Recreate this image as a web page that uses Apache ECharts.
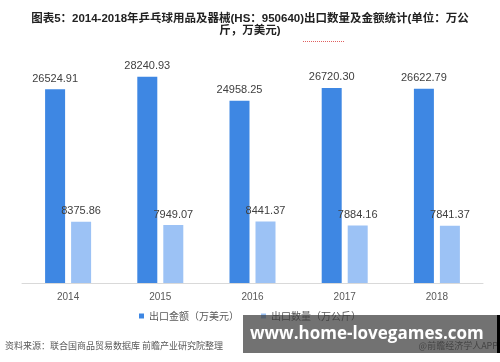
<!DOCTYPE html>
<html><head><meta charset="utf-8">
<script src="https://cdn.jsdelivr.net/npm/echarts@6/dist/echarts.min.js"></script>
<style>html,body{margin:0;padding:0;background:#fff}#c{width:500px;height:362px}</style>
</head><body><div id="c"></div>
<script>
const categories = ['2014','2015','2016','2017','2018'];
const amountName = '出口金额（万美元）';
const amountValues = [26524.91, 28240.93, 24958.25, 26720.30, 26622.79];
const qtyName = '出口数量（万公斤）';
const qtyValues = [8375.86, 7949.07, 8441.37, 7884.16, 7841.37];

const chart = echarts.init(document.getElementById('c'));
const lbl = {show:true, position:'top', distance:5, color:'#404040', fontSize:11,
  fontFamily:'Liberation Sans, Arial, sans-serif', formatter: p => p.value.toFixed(2)};
chart.setOption({
  animation:false,
  title:{text:'图表5：2014-2018年乒乓球用品及器械(HS：950640)出口数量及金额统计(单位：万公\n斤，万美元)',
    left:'center', top:8,
    textStyle:{fontSize:11.5, fontWeight:'bold', color:'#222', lineHeight:12,
      fontFamily:'Liberation Sans, Noto Sans CJK SC, sans-serif', align:'center'}},
  legend:{bottom:36, left:'center', itemWidth:5, itemHeight:5, itemGap:22,
    icon:'rect', textStyle:{fontSize:10, color:'#595959', fontFamily:'Noto Sans CJK SC'},
    data:[amountName, qtyName]},
  grid:{left:22, right:17, top:64, bottom:79},
  xAxis:{type:'category', data:categories,
    axisLine:{lineStyle:{color:'#d9d9d9'}}, axisTick:{show:false},
    axisLabel:{color:'#595959', fontSize:10, margin:9, fontFamily:'Liberation Sans, sans-serif'}},
  yAxis:{type:'value', min:0, max:30000, show:false, splitLine:{show:false}},
  series:[
    {name:amountName, type:'bar', data:amountValues, barWidth:20, barGap:'30%',
      itemStyle:{color:'#3E87E3'}, label:lbl},
    {name:qtyName, type:'bar', data:qtyValues, barWidth:20,
      itemStyle:{color:'#9CC2F5'}, label:lbl}
  ],
  graphic:[
    {type:'line', shape:{x1:303,y1:41.5,x2:345,y2:41.5}, style:{stroke:'#e06060', lineWidth:1, lineDash:[1,1]}},
    {type:'text', left:5, top:341, style:{text:'资料来源：联合国商品贸易数据库 前瞻产业研究院整理',
      fontSize:9, fill:'#595959', fontFamily:'Noto Sans CJK SC'}},
    {type:'text', right:2, top:341, style:{text:'@前瞻经济学人APP', fontSize:9, fill:'#595959', fontFamily:'Noto Sans CJK SC'}},
    {type:'rect', shape:{x:243, y:315, width:257, height:38}, style:{fill:'rgba(60,60,60,0.72)'}, z:100},
    {type:'rect', shape:{x:497, y:315, width:3, height:38}, style:{fill:'#000'}, z:101},
    {type:'text', x:250, y:334, z:102, style:{text:'www.home-lovegames.com', fill:'#fff', fontSize:17,
      fontWeight:'bold', fontFamily:'Open Sans, DejaVu Sans, sans-serif', verticalAlign:'middle'}}
  ]
});
</script></body></html>
